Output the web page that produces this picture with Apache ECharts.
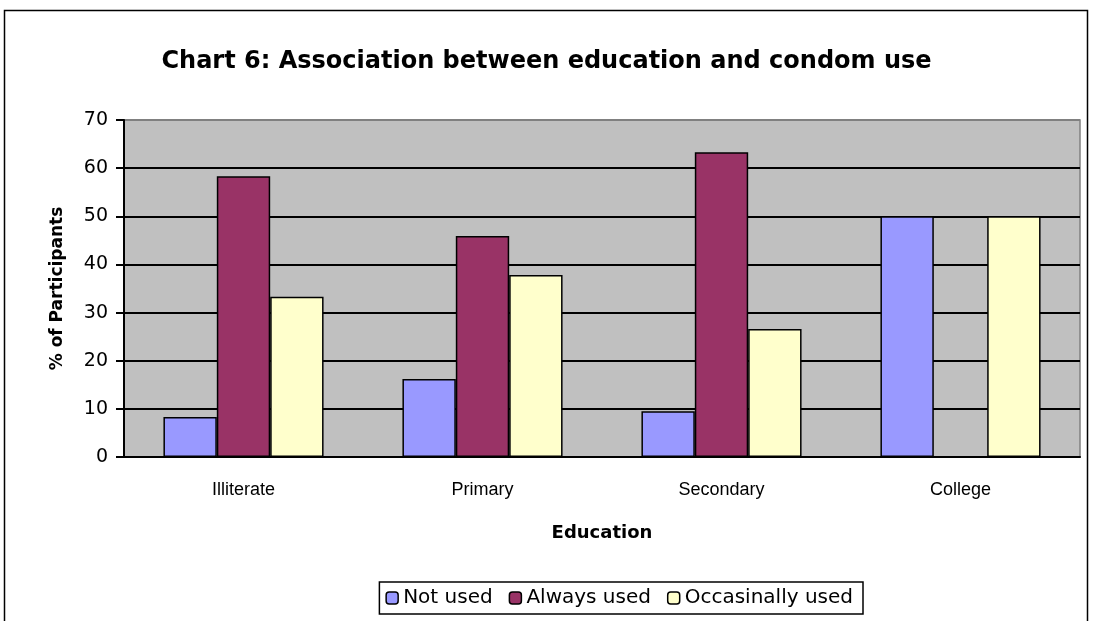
<!DOCTYPE html>
<html>
<head>
<meta charset="utf-8">
<script src="https://cdn.jsdelivr.net/npm/echarts@6/dist/echarts.min.js"></script>
<style>html,body{margin:0;padding:0;background:#fff}#c{width:1093px;height:621px}</style>
</head>
<body>
<div id="c"></div>
<script>
const categories = ['Illiterate', 'Primary', 'Secondary', 'College'];
const notUsed = [8.3, 16.2, 9.5, 50];
const alwaysUsed = [58.3, 45.9, 63.3, 0];
const occasionallyUsed = [33.3, 37.8, 26.6, 50];
const seriesNames = ['Not used', 'Always used', 'Occasinally used'];
const yTicks = { min: 0, max: 70, interval: 10 };

const SANS = '"Liberation Sans", Arial, sans-serif';
const WIDE = '"DejaVu Sans", sans-serif';
const chart = echarts.init(document.getElementById('c'), null, { renderer: 'canvas' });
const barStyle = (color) => ({ color: color, borderColor: '#000', borderWidth: 1.5 });
const gridColors = ['#000', '#000', '#000', '#000', '#000', '#000', '#000', '#808080'];
chart.setOption({
  animation: false,
  backgroundColor: '#fff',
  title: {
    text: 'Chart 6: Association between education and condom use',
    left: 'center', top: 45,
    textStyle: { fontFamily: WIDE, fontSize: 24, fontWeight: 'bold', color: '#000' }
  },
  graphic: [{
    type: 'rect', shape: { x: 4.5, y: 10.5, width: 1083, height: 640 },
    style: { fill: 'none', stroke: '#000', lineWidth: 1.5 }, silent: true
  }],
  legend: {
    bottom: 7, right: 230,
    data: seriesNames,
    itemWidth: 12, itemHeight: 12, itemGap: 16,
    padding: [6, 10, 6, 6],
    borderColor: '#000', borderWidth: 1.5,
    textStyle: { fontFamily: WIDE, fontSize: 20, color: '#000' },
    itemStyle: { borderColor: '#000', borderWidth: 1.5 }
  },
  grid: { left: 124, right: 13, top: 120, bottom: 164, show: true, backgroundColor: '#c0c0c0', borderColor: '#808080', borderWidth: 1.5 },
  xAxis: {
    type: 'category', data: categories,
    name: 'Education', nameLocation: 'middle', nameGap: 67,
    nameTextStyle: { fontFamily: WIDE, fontSize: 18, fontWeight: 'bold', color: '#000' },
    axisLine: { show: true, lineStyle: { color: '#000', width: 2 } },
    axisTick: { show: false },
    axisLabel: { fontFamily: SANS, fontSize: 18, color: '#000', margin: 24 }
  },
  yAxis: {
    type: 'value', min: yTicks.min, max: yTicks.max, interval: yTicks.interval,
    name: '% of Participants', nameLocation: 'middle', nameGap: 58,
    nameTextStyle: { fontFamily: WIDE, fontSize: 17, fontWeight: 'bold', color: '#000' },
    axisLine: { show: true, lineStyle: { color: '#000', width: 2 } },
    axisTick: { show: true, length: 8, inside: false, lineStyle: { color: '#000', width: 2 } },
    axisLabel: { fontFamily: WIDE, fontSize: 19, color: '#000', margin: 16 },
    splitLine: { show: true, lineStyle: { color: gridColors, width: 2 } }
  },
  series: [
    { name: seriesNames[0], type: 'bar', data: notUsed, barGap: '0%', barCategoryGap: '33%', itemStyle: barStyle('#9999ff') },
    { name: seriesNames[1], type: 'bar', data: alwaysUsed, barGap: '0%', barCategoryGap: '33%', itemStyle: barStyle('#993366') },
    { name: seriesNames[2], type: 'bar', data: occasionallyUsed, barGap: '0%', barCategoryGap: '33%', itemStyle: barStyle('#ffffcc') }
  ]
});
</script>
</body>
</html>
